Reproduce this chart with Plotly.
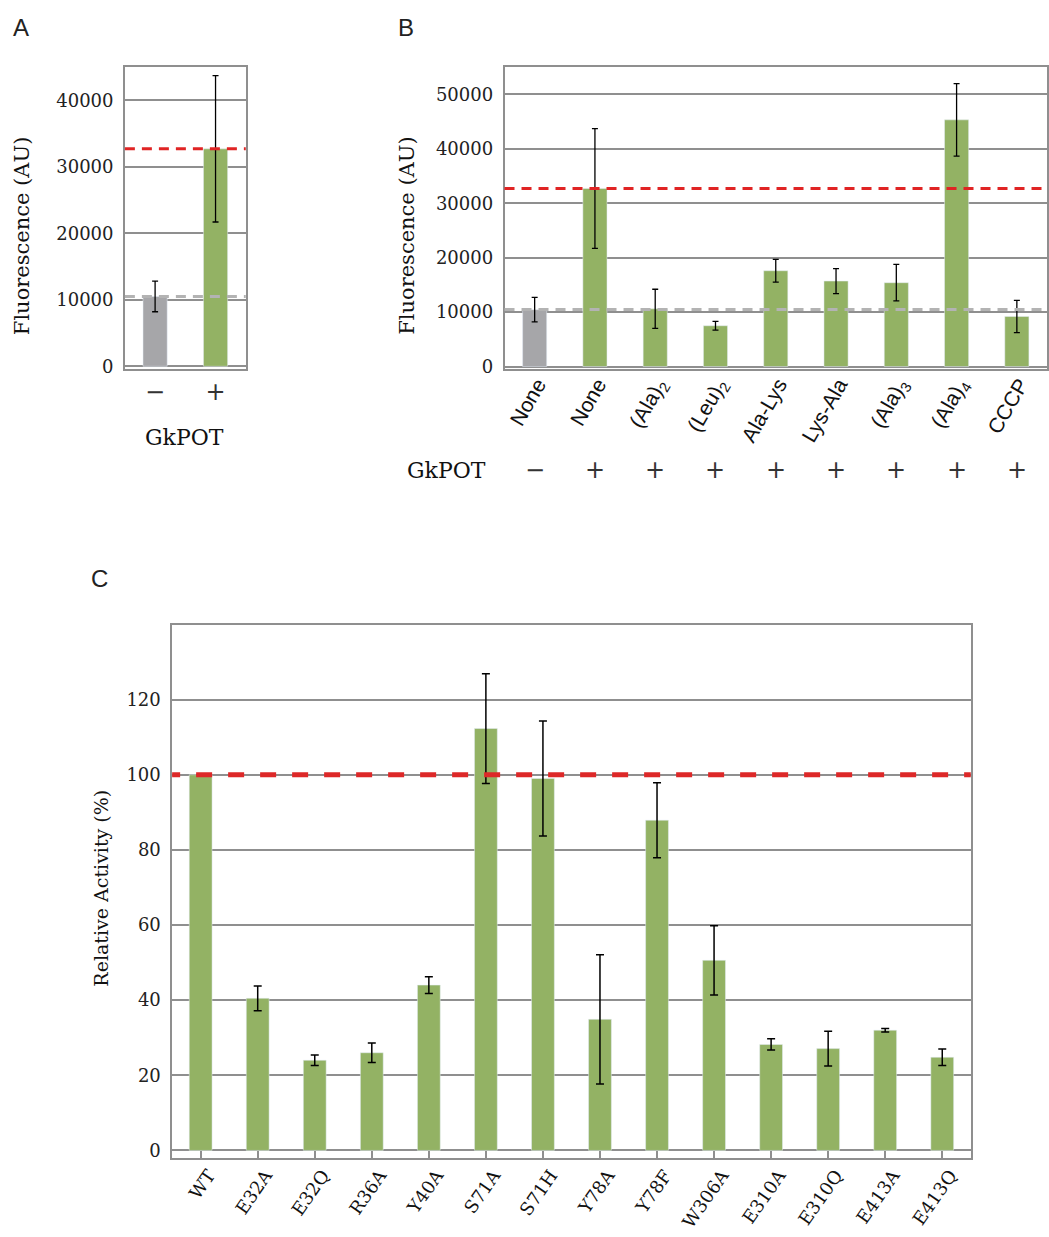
import plotly.graph_objects as go

W, H = 1049, 1237
H_EFF = 1228  # vertical pixel scale used for placing domains and annotations

# ---------------- data ----------------
# Panel A: GkPOT-dependent uptake
a_labels = ["\u2212", "+"]
a_values = [10500, 32700]
a_errors = [2300, 11000]
a_colors = ["#a6a6a9", "#93b264"]

# Panel B: substrate competition
b_labels = ["None", "None", "(Ala)<sub>2</sub>", "(Leu)<sub>2</sub>", "Ala-Lys",
            "Lys-Ala", "(Ala)<sub>3</sub>", "(Ala)<sub>4</sub>", "CCCP"]
b_gkpot = ["\u2212", "+", "+", "+", "+", "+", "+", "+", "+"]
b_values = [10450, 32700, 10600, 7500, 17600, 15700, 15400, 45300, 9200]
b_errors = [2250, 11000, 3600, 800, 2100, 2300, 3350, 6650, 2950]
b_colors = ["#a6a6a9"] + ["#93b264"] * 8

# Panel C: mutant activities relative to WT
c_labels = ["WT", "E32A", "E32Q", "R36A", "Y40A", "S71A", "S71H", "Y78A",
            "Y78F", "W306A", "E310A", "E310Q", "E413A", "E413Q"]
c_values = [100, 40.5, 24.0, 26.0, 44.0, 112.3, 99.0, 34.9, 87.9, 50.6,
            28.2, 27.1, 32.0, 24.8]
c_errors = [None, 3.3, 1.4, 2.6, 2.2, 14.6, 15.3, 17.2, 10.0, 9.2,
            1.5, 4.6, 0.45, 2.2]

# ---------------- styling ----------------
GRID = "#8f8f8f"
SERIF = "DejaVu Serif"
SANS = "Liberation Sans"


def px_x(p):
    return p / W


def px_y(p):
    return 1 - p / H_EFF


fig = go.Figure()

# A
fig.add_trace(go.Bar(
    x=a_labels, y=a_values, marker_color=a_colors, width=0.4,
    error_y=dict(type="data", array=a_errors, color="black", thickness=1.3, width=3),
    xaxis="x", yaxis="y", showlegend=False))

# B
b_x = list(range(len(b_labels)))
fig.add_trace(go.Bar(
    x=b_x, y=b_values, marker_color=b_colors, width=0.4,
    error_y=dict(type="data", array=b_errors, color="black", thickness=1.3, width=3),
    xaxis="x2", yaxis="y2", showlegend=False))

# C
c_x = list(range(len(c_labels)))
fig.add_trace(go.Bar(
    x=c_x, y=c_values, marker_color="#93b264", width=0.4,
    error_y=dict(type="data", array=c_errors, color="black", thickness=1.5, width=4),
    xaxis="x3", yaxis="y3", showlegend=False))

yaxis_common = dict(
    showgrid=True, gridcolor=GRID, gridwidth=1.5,
    zeroline=True, zerolinecolor=GRID, zerolinewidth=2,
    showline=True, linecolor=GRID, linewidth=1.5, mirror=True,
    ticks="", tickformat="d",
    tickfont=dict(family=SERIF, size=18, color="#222"),
    ticklabelstandoff=6,
)

fig.update_layout(
    width=W, height=H,
    margin=dict(l=0, r=0, t=0, b=0),
    paper_bgcolor="white", plot_bgcolor="white",
    bargap=0.6,
    xaxis=dict(domain=[px_x(125), px_x(246)], anchor="y",
               type="category", showgrid=False, zeroline=False,
               showline=True, linecolor=GRID, linewidth=1.5, mirror=True,
               ticks="", tickfont=dict(family="DejaVu Sans", size=24, color="#333"),
               ticklabelstandoff=0),
    yaxis=dict(domain=[px_y(369), px_y(67)], anchor="x",
               range=[-450, 45000], tickvals=[0, 10000, 20000, 30000, 40000],
               **yaxis_common),
    xaxis2=dict(domain=[px_x(505), px_x(1048)], anchor="y2",
                range=[-0.5, len(b_labels) - 0.5],
                tickvals=b_x, ticktext=b_labels, tickangle=-60,
                showgrid=False, zeroline=False,
                showline=True, linecolor=GRID, linewidth=1.5, mirror=True,
                ticks="", tickfont=dict(family=SANS, size=21, color="#111"),
                ticklabelstandoff=-7, ticklabelshift=3),
    yaxis2=dict(domain=[px_y(369), px_y(67)], anchor="x2",
                range=[-500, 55000],
                tickvals=[0, 10000, 20000, 30000, 40000, 50000],
                **yaxis_common),
    xaxis3=dict(domain=[px_x(172.3), px_x(971.7)], anchor="y3",
                range=[-0.5, len(c_labels) - 0.5],
                tickvals=c_x, ticktext=c_labels, tickangle=-55,
                showgrid=False, zeroline=False,
                showline=True, linecolor=GRID, linewidth=1.5, mirror=True,
                ticks="inside", ticklen=7, tickcolor=GRID, tickwidth=1.5,
                tickson="boundaries",
                tickfont=dict(family=SERIF, size=18, color="#111"),
                ticklabelstandoff=-2, ticklabelshift=8),
    yaxis3=dict(domain=[px_y(1157), px_y(624.7)], anchor="x3",
                range=[-2, 139.8], tickvals=[0, 20, 40, 60, 80, 100, 120],
                **yaxis_common),
)

# reference levels: control (gray) and GkPOT (red)
for xr, yr in (("x domain", "y"), ("x2 domain", "y2")):
    fig.add_shape(type="line", xref=xr, yref=yr, x0=0, x1=1,
                  y0=a_values[0], y1=a_values[0],
                  line=dict(color="#b3b3b3", width=3, dash="10px,7px"))
    fig.add_shape(type="line", xref=xr, yref=yr, x0=0, x1=1,
                  y0=a_values[1], y1=a_values[1],
                  line=dict(color="#e02424", width=3, dash="10px,7px"))

fig.add_shape(type="line", xref="x3 domain", yref="y3", x0=0, x1=1,
              y0=c_values[0], y1=c_values[0],
              line=dict(color="#dd2828", width=5, dash="8px,16px,16px,16px,16px,16px,16px,16px,16px,16px,16px,16px,16px,16px,16px,16px,16px,16px,16px,16px,16px,16px,16px,16px,16px,16px,16px,16px,16px,16px,16px,16px,16px,16px,16px,16px,16px,16px,16px,16px,16px,16px,16px,16px,16px,16px,16px,16px,16px,16px,16px,16px"))

annotations = [
    dict(text="A", x=px_x(11), y=px_y(27), xanchor="left", yanchor="middle",
         font=dict(family=SANS, size=24, color="#222")),
    dict(text="B", x=px_x(396), y=px_y(27), xanchor="left", yanchor="middle",
         font=dict(family=SANS, size=24, color="#222")),
    dict(text="C", x=px_x(89), y=px_y(578), xanchor="left", yanchor="middle",
         font=dict(family=SANS, size=24, color="#222")),
    dict(text="Fluorescence (AU)", x=px_x(22), y=px_y(235), textangle=-90,
         xanchor="center", yanchor="middle",
         font=dict(family=SERIF, size=21, color="#111")),
    dict(text="Fluorescence (AU)", x=px_x(408), y=px_y(235), textangle=-90,
         xanchor="center", yanchor="middle",
         font=dict(family=SERIF, size=21, color="#111")),
    dict(text="Relative Activity (%)", x=px_x(101), y=px_y(887), textangle=-90,
         xanchor="center", yanchor="middle",
         font=dict(family=SERIF, size=19, color="#111")),
    dict(text="GkPOT", x=px_x(185), y=px_y(437), xanchor="center", yanchor="middle",
         font=dict(family=SERIF, size=22, color="#111")),
    dict(text="GkPOT", x=px_x(447), y=px_y(470), xanchor="center", yanchor="middle",
         font=dict(family=SERIF, size=22, color="#111")),
]
for i, s in enumerate(b_gkpot):
    annotations.append(dict(text=s, x=b_x[i], xref="x2", y=px_y(470), yref="paper",
                            xanchor="center", yanchor="middle",
                            font=dict(family="DejaVu Sans", size=24, color="#333")))
for a in annotations:
    a.setdefault("xref", "paper")
    a.setdefault("yref", "paper")
    a["showarrow"] = False
fig.update_layout(annotations=annotations)

fig.write_html("out.html")
